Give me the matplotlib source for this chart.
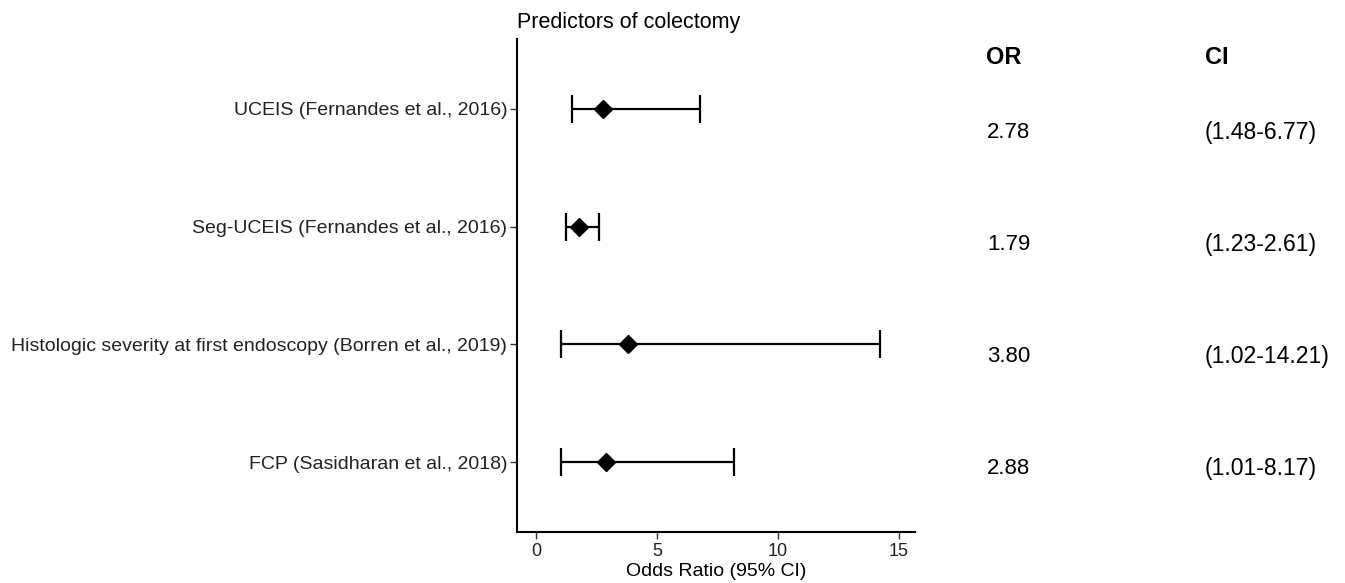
import matplotlib.pyplot as plt
import numpy as np

plt.rcParams['font.family'] = ['Liberation Sans', 'DejaVu Sans']

# data
studies = ['UCEIS (Fernandes et al., 2016)',
           'Seg-UCEIS (Fernandes et al., 2016)',
           'Histologic severity at first endoscopy (Borren et al., 2019)',
           'FCP (Sasidharan et al., 2018)']
odds = [2.78, 1.79, 3.80, 2.88]
ci_low = [1.48, 1.23, 1.02, 1.01]
ci_high = [6.77, 2.61, 14.21, 8.17]
xticks = [0, 5, 10, 15]

W, H = 1345, 583
fig = plt.figure(figsize=(W / 100, H / 100), dpi=100)
ax = fig.add_axes([517 / W, 1 - 532 / H, (915 - 517) / W, (532 - 39) / H])

y = np.arange(1, len(studies) + 1)
odds = np.array(odds)
err = [odds - np.array(ci_low), np.array(ci_high) - odds]
ax.errorbar(odds, y, xerr=err, fmt='D', color='black', ms=9,
            elinewidth=1.6, capsize=10, capthick=1.6)

ax.set_ylim(4.59, 0.41)
ax.set_xlim(-0.79, 15.66)
ax.set_yticks(y)
ax.set_yticklabels(studies, fontsize=14)
ax.set_xticks(xticks)
ax.tick_params(axis='x', labelsize=13, colors='#333333', length=5, width=1, pad=3)
ax.tick_params(axis='y', colors='#333333', length=5, width=1, pad=2)
ax.tick_params(axis='both', labelcolor='#222222')
for s in ['top', 'right']:
    ax.spines[s].set_visible(False)
for s in ['left', 'bottom']:
    ax.spines[s].set_linewidth(1.5)
ax.set_xlabel('Odds Ratio (95% CI)', fontsize=14, labelpad=2)
ax.set_title('Predictors of colectomy', loc='left', fontsize=15.5, pad=8)

# table of OR / CI on the right
tab = fig.add_axes([0, 0, 1, 1])
tab.set_xlim(0, W)
tab.set_ylim(H, 0)
tab.axis('off')
tab.text(986, 57, 'OR', fontsize=17, fontweight='bold', va='center')
tab.text(1205, 57, 'CI', fontsize=17, fontweight='bold', va='center')
for i in range(len(studies)):
    ty = 132 + 112 * i
    tab.text(987, ty, f'{odds[i]:.2f}', fontsize=16, va='center')
    tab.text(1205, ty, f'({ci_low[i]:.2f}-{ci_high[i]:.2f})', fontsize=16.6, va='center')

fig.savefig('out.png', dpi=100)
